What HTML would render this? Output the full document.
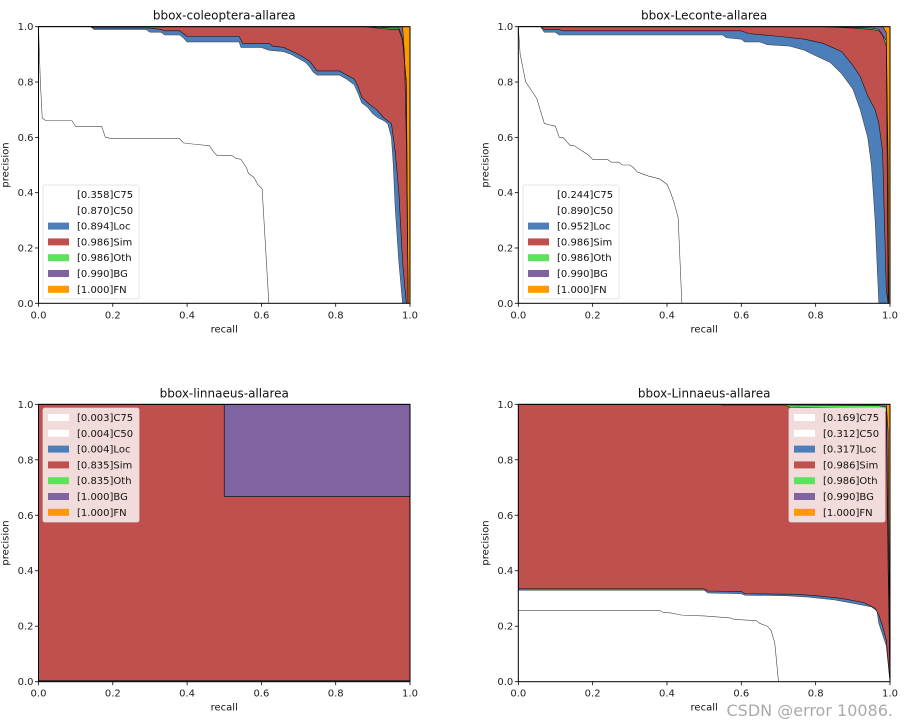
<!DOCTYPE html>
<html><head><meta charset="utf-8"><style>
html,body{margin:0;padding:0;background:#fff;}
svg{display:block;font-family:"DejaVu Sans","Liberation Sans",sans-serif;}
</style></head><body>
<svg id="fig" width="910" height="727" viewBox="0 0 910 727" xmlns="http://www.w3.org/2000/svg"></svg>
<script>
// ---- data ----
const seriesNames = ["C75","C50","Loc","Sim","Oth","BG","FN"];
const seriesColors = ["#ffffff","#ffffff","#4c7fba","#c0504d","#5be35b","#8064a2","#ff9900"];
const plotTitles = ["bbox-coleoptera-allarea","bbox-Leconte-allarea","bbox-linnaeus-allarea","bbox-Linnaeus-allarea"];
const xTicks = [0,0.2,0.4,0.6,0.8,1.0];
const yTicks = [0,0.2,0.4,0.6,0.8,1.0];
const apValues = [
 ["0.358","0.870","0.894","0.986","0.986","0.990","1.000"],
 ["0.244","0.890","0.952","0.986","0.986","0.990","1.000"],
 ["0.003","0.004","0.004","0.835","0.835","1.000","1.000"],
 ["0.169","0.312","0.317","0.986","0.986","0.990","1.000"]
];
// curves: [recall, precision] pairs per series, per plot
const p1C75=[[0,1],[0.005,0.8],[0.01,0.67],[0.02,0.66],[0.09,0.66],[0.1,0.64],[0.17,0.64],[0.18,0.6],[0.2,0.595],[0.38,0.595],[0.39,0.58],[0.42,0.575],[0.46,0.57],[0.47,0.55],[0.48,0.535],[0.52,0.535],[0.53,0.525],[0.545,0.52],[0.56,0.49],[0.565,0.47],[0.58,0.455],[0.59,0.43],[0.602,0.413],[0.62,0]];
const p1C50=[[0,1],[0.14,1],[0.15,0.99],[0.29,0.99],[0.3,0.98],[0.33,0.98],[0.34,0.97],[0.38,0.97],[0.39,0.96],[0.4,0.945],[0.54,0.945],[0.545,0.925],[0.6,0.925],[0.62,0.915],[0.66,0.91],[0.68,0.9],[0.7,0.885],[0.72,0.87],[0.73,0.855],[0.74,0.835],[0.75,0.825],[0.81,0.825],[0.83,0.81],[0.85,0.79],[0.86,0.76],[0.87,0.725],[0.885,0.71],[0.9,0.685],[0.915,0.67],[0.93,0.66],[0.94,0.65],[0.95,0.6],[0.955,0.5],[0.96,0.35],[0.97,0.15],[0.98,0]];
const p1Loc=[[0,1],[0.14,1],[0.15,0.995],[0.3,0.995],[0.33,0.99],[0.34,0.985],[0.38,0.985],[0.39,0.975],[0.4,0.965],[0.54,0.965],[0.55,0.94],[0.62,0.94],[0.63,0.93],[0.66,0.925],[0.7,0.9],[0.73,0.875],[0.75,0.84],[0.81,0.84],[0.83,0.825],[0.85,0.81],[0.86,0.785],[0.87,0.745],[0.89,0.72],[0.91,0.7],[0.93,0.67],[0.95,0.65],[0.96,0.55],[0.97,0.4],[0.98,0.15],[0.99,0]];
const p1Sim=[[0,1],[0.88,1],[0.89,0.998],[0.95,0.99],[0.97,0.99],[0.98,0.95],[0.99,0.8],[0.995,0]];
const p1Oth=[[0,1],[0.88,1],[0.95,0.995],[0.97,0.995],[0.98,0.96],[0.99,0.8],[0.995,0]];
const p1BG=[[0,1],[0.98,1],[0.985,0.9],[0.99,0.6],[0.995,0]];
const p1FN=[[0,1],[1,1],[1,0]];
const p2C75=[[0,1],[0.005,0.9],[0.02,0.8],[0.05,0.74],[0.07,0.65],[0.1,0.64],[0.11,0.6],[0.12,0.6],[0.14,0.57],[0.15,0.57],[0.19,0.535],[0.2,0.52],[0.24,0.52],[0.25,0.51],[0.27,0.51],[0.28,0.5],[0.3,0.5],[0.31,0.49],[0.32,0.475],[0.33,0.47],[0.35,0.46],[0.38,0.45],[0.4,0.43],[0.41,0.4],[0.42,0.36],[0.43,0.31],[0.44,0]];
const p2C50=[[0,1],[0.06,1],[0.07,0.98],[0.1,0.98],[0.11,0.97],[0.55,0.97],[0.56,0.96],[0.6,0.955],[0.61,0.945],[0.65,0.945],[0.67,0.935],[0.73,0.93],[0.77,0.915],[0.8,0.895],[0.84,0.87],[0.87,0.83],[0.9,0.775],[0.92,0.7],[0.94,0.6],[0.95,0.5],[0.96,0.3],[0.97,0]];
const p2Loc=[[0,1],[0.06,1],[0.07,0.99],[0.11,0.99],[0.12,0.985],[0.6,0.985],[0.62,0.975],[0.7,0.965],[0.77,0.955],[0.82,0.94],[0.87,0.91],[0.9,0.86],[0.92,0.82],[0.94,0.75],[0.96,0.7],[0.97,0.65],[0.98,0.55],[0.985,0.3],[0.99,0.05],[0.995,0]];
const p2Sim=[[0,1],[0.82,1],[0.9,0.995],[0.95,0.99],[0.97,0.985],[0.98,0.97],[0.99,0.93],[0.993,0.5],[0.995,0]];
const p2Oth=[[0,1],[0.82,1],[0.95,0.995],[0.97,0.99],[0.99,0.95],[0.995,0]];
const p2BG=[[0,1],[0.98,1],[0.99,0.98],[0.995,0.5],[0.997,0]];
const p2FN=[[0,1],[1,1],[1,0]];
const p3C75=[[0,0.001],[1,0.001]];
const p3C50=[[0,0.002],[1,0.002]];
const p3Loc=[[0,0.004],[1,0.004]];
const p3Sim=[[0,1],[0.5,1],[0.5,0.667],[1,0.667]];
const p3Oth=[[0,1],[0.5,1],[0.5,0.667],[1,0.667]];
const p3BG=[[0,1],[1,1]];
const p3FN=[[0,1],[1,1]];
const p4C75=[[0,0.257],[0.38,0.257],[0.39,0.25],[0.41,0.248],[0.44,0.24],[0.5,0.237],[0.54,0.233],[0.57,0.23],[0.58,0.225],[0.64,0.22],[0.65,0.21],[0.67,0.2],[0.68,0.185],[0.69,0.14],[0.7,0]];
const p4C50=[[0,0.33],[0.5,0.33],[0.51,0.32],[0.6,0.317],[0.61,0.312],[0.72,0.31],[0.78,0.305],[0.85,0.295],[0.9,0.283],[0.95,0.27],[0.965,0.255],[0.97,0.21],[0.98,0.17],[0.99,0.13],[1,0]];
const p4Loc=[[0,0.335],[0.5,0.335],[0.51,0.327],[0.6,0.325],[0.61,0.317],[0.75,0.315],[0.8,0.31],[0.87,0.3],[0.93,0.285],[0.96,0.265],[0.97,0.24],[0.98,0.2],[0.99,0.15],[1,0]];
const p4Sim=[[0,1],[0.54,1],[0.55,0.997],[0.72,0.997],[0.73,0.99],[0.96,0.985],[0.99,0.97],[0.995,0.4],[1,0]];
const p4Oth=[[0,1],[0.72,1],[0.73,0.997],[0.97,0.995],[0.99,0.99],[1,0]];
const p4BG=[[0,1],[0.99,1],[0.995,0.9],[1,0]];
const p4FN=[[0,1],[1,1],[1,0]];
const plotCurves=[
 [p1C75,p1C50,p1Loc,p1Sim,p1Oth,p1BG,p1FN],
 [p2C75,p2C50,p2Loc,p2Sim,p2Oth,p2BG,p2FN],
 [p3C75,p3C50,p3Loc,p3Sim,p3Oth,p3BG,p3FN],
 [p4C75,p4C50,p4Loc,p4Sim,p4Oth,p4BG,p4FN]
];
// ---- layout ----
const NS="http://www.w3.org/2000/svg";
const svg=document.getElementById('fig');
const boxes=[{x0:38.5,x1:410,y0:26.7,y1:303.3,leg:[43,185],legBg:"#fff"},
 {x0:518.3,x1:890,y0:26.7,y1:303.3,leg:[523,185],legBg:"#fff"},
 {x0:38.5,x1:410,y0:404.3,y1:681.7,leg:[43,408],legBg:"#f2dcdb"},
 {x0:518.3,x1:890,y0:404.3,y1:681.7,leg:[789,408],legBg:"#f2dcdb"}];
function el(tag,attrs,parent){const e=document.createElementNS(NS,tag);for(const k in attrs)e.setAttribute(k,attrs[k]);(parent||svg).appendChild(e);return e;}
boxes.forEach((b,pi)=>{
 const g=el('g',{});
 
 
 const xs=v=>b.x0+v*(b.x1-b.x0), ys=v=>b.y1-v*(b.y1-b.y0);
 const curves=plotCurves[pi];
 for(let s=curves.length-1;s>=0;s--){
  const c=curves[s];
  let d='M'+xs(c[0][0])+','+ys(0);
  c.forEach(p=>d+=' L'+xs(p[0]).toFixed(2)+','+ys(p[1]).toFixed(2));
  d+=' L'+xs(c[c.length-1][0])+','+ys(0)+' Z';
  const a=el('path',{d:d,fill:seriesColors[s],stroke:'none'},g);
  
  
 }
 for(let s=0;s<curves.length;s++){
  const c=curves[s];
  let d='';
  c.forEach((p,i)=>d+=(i?' L':'M')+xs(p[0]).toFixed(2)+','+ys(p[1]).toFixed(2));
  const l=el('path',{d:d,fill:'none',stroke:(s<2?'#444':'#111'),'stroke-width':0.6},g);
  
  
 }
 const fr=el('rect',{x:b.x0,y:b.y0,width:b.x1-b.x0,height:b.y1-b.y0,fill:'none',stroke:'#000','stroke-width':1},g);
 
 
 xTicks.forEach(t=>{
  el('line',{x1:xs(t),x2:xs(t),y1:b.y1,y2:b.y1+3.5,stroke:'#000','stroke-width':0.8},g);
  const tx=el('text',{x:xs(t),y:b.y1+15,'font-size':10,'text-anchor':'middle',fill:'#222'},g);
  tx.textContent=t.toFixed(1);
  
  
 });
 yTicks.forEach(t=>{
  el('line',{x1:b.x0-3.5,x2:b.x0,y1:ys(t),y2:ys(t),stroke:'#000','stroke-width':0.8},g);
  const tx=el('text',{x:b.x0-5,y:ys(t)+3.5,'font-size':10,'text-anchor':'end',fill:'#222'},g);
  tx.textContent=t.toFixed(1);
  
  
 });
 const ti=el('text',{x:(b.x0+b.x1)/2,y:b.y0-7,'font-size':12,'text-anchor':'middle',fill:'#111'},g);
 ti.textContent=plotTitles[pi];
 
 
 const xl=el('text',{x:(b.x0+b.x1)/2,y:b.y1+29,'font-size':10,'text-anchor':'middle',fill:'#111'},g);
 xl.textContent='recall';
 
 
 const yx=b.x0-30, yy=(b.y0+b.y1)/2;
 const yl=el('text',{x:yx,y:yy,'font-size':10,'text-anchor':'middle',fill:'#111',transform:'rotate(-90 '+yx+' '+yy+')'},g);
 yl.textContent='precision';
 
 
 // legend
 const lg=el('g',{},g);
 
 
 const lx=b.leg[0], ly=b.leg[1];
 el('rect',{x:lx,y:ly,width:96,height:114,rx:2,fill:b.legBg,stroke:'#ddd','stroke-width':0.8},lg);
 seriesNames.forEach((n,i)=>{
  const ry=ly+9+i*15.8;
  const ent=el('g',{},lg);
  
  
  el('rect',{x:lx+5,y:ry-3,width:21,height:7,fill:seriesColors[i]},ent);
  const tt=el('text',{x:lx+34,y:ry+4,'font-size':10,fill:'#111'},ent);
  tt.textContent='['+apValues[pi][i]+']'+n;
 });
});
const wm=el('text',{x:893,y:716,'font-size':16,'text-anchor':'end',fill:'#aaa'});
wm.textContent='CSDN @error 10086.';


</script>
</body></html>
